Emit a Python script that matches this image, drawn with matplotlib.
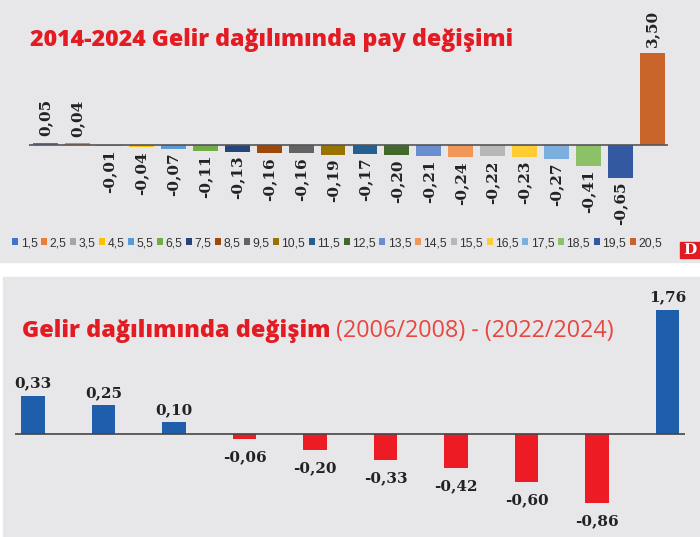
import numpy as np
import matplotlib
matplotlib.use("Agg")
import matplotlib.pyplot as plt
from matplotlib.patches import Rectangle

# top chart: share change per group, 2014-2024
groups = ["1,5", "2,5", "3,5", "4,5", "5,5", "6,5", "7,5", "8,5", "9,5", "10,5",
          "11,5", "12,5", "13,5", "14,5", "15,5", "16,5", "17,5", "18,5", "19,5", "20,5"]
pay_change = [0.05, 0.04, -0.01, -0.04, -0.07, -0.11, -0.13, -0.16, -0.16, -0.19,
              -0.17, -0.20, -0.21, -0.24, -0.22, -0.23, -0.27, -0.41, -0.65, 3.50]
group_colors = ["#4472c4", "#ed7d31", "#a5a5a5", "#ffc000", "#5b9bd5", "#70ad47",
                "#264478", "#9e480e", "#636363", "#997300", "#255e91", "#43682b",
                "#698ed0", "#f1975a", "#b7b7b7", "#ffcd33", "#7cafdd", "#8cc168",
                "#335aa1", "#c8642a"]

# bottom chart: change (2006/2008) - (2022/2024)
change_values = [0.33, 0.25, 0.10, -0.06, -0.20, -0.33, -0.42, -0.60, -0.86, 1.76]

W, H = 700, 537
BG = "#e7e7e9"
RED = "#e31b23"
LABEL_FONT = "DejaVu Serif"


def fmt(v):
    return f"{v:.2f}".replace(".", ",")


def piecewise_scale(xp, fp):
    # piecewise linear axis scale, like the hand-tuned bar heights of the original
    def fwd(y):
        return np.interp(y, xp, fp)

    def inv(p):
        return np.interp(p, fp, xp)

    return fwd, inv


def px_axes(fig, x0, y0, x1, y1):
    return fig.add_axes([x0 / W, 1 - y1 / H, (x1 - x0) / W, (y1 - y0) / H])


fig = plt.figure(figsize=(W / 100, H / 100), dpi=100)
fig.patch.set_facecolor("white")
fig.patches.append(Rectangle((0, 1 - 262 / H), 1, 262 / H, transform=fig.transFigure,
                             color=BG, zorder=-10))
fig.patches.append(Rectangle((3 / W, 0), 697 / W, 260 / H, transform=fig.transFigure,
                             color=BG, zorder=-10))

### top chart
ax1 = px_axes(fig, 29, 40, 668, 230)
fwd1, inv1 = piecewise_scale([-10, 0, 0.3, 10], [-500, 0, 15, 15 + 9.7 * 24.06])
ax1.set_yscale("function", functions=(fwd1, inv1))
for i, (v, c, g) in enumerate(zip(pay_change, group_colors, groups)):
    ax1.bar(i, v, width=0.78, color=c, label=g, zorder=2)
    if v > 0:
        ax1.annotate(fmt(v), (i, v), xytext=(0, 4.5), textcoords="offset points",
                     rotation=90, ha="center", va="bottom", fontsize=11,
                     fontweight="bold", family=LABEL_FONT, color="#222222")
    else:
        ax1.annotate(fmt(v), (i, v), xytext=(0, -3), textcoords="offset points",
                     rotation=90, ha="center", va="top", fontsize=11,
                     fontweight="bold", family=LABEL_FONT, color="#222222")
ax1.axhline(0, color="#555555", lw=1.2, zorder=3)
ax1.set_xlim(-0.516, 19.485)
ax1.set_ylim(inv1(-85), inv1(105))
ax1.axis("off")

handles, labels = ax1.get_legend_handles_labels()
fig.legend(handles, labels, loc="center", bbox_to_anchor=(337 / W, 1 - 243 / H), ncol=20,
           frameon=False, handlelength=0.5, handleheight=0.5, handletextpad=0.2,
           columnspacing=0.3, borderaxespad=0, borderpad=0, labelcolor="#333333",
           prop={"family": "Liberation Sans", "size": 8.7})

fig.text(30 / W, 1 - 46 / H, "2014-2024 Gelir dağılımında pay değişimi", color=RED,
         fontsize=16.7, fontweight=800, family="Open Sans", va="baseline")

# D logo
fig.patches.append(Rectangle((680 / W, 1 - 258 / H), 20 / W, 16 / H,
                             transform=fig.transFigure, color="#e11b22", zorder=5))
fig.text(690 / W, 1 - 250 / H, "D", color="white", fontsize=11, fontweight="bold",
         family="DejaVu Serif", ha="center", va="center", zorder=6)

### bottom chart
ax2 = px_axes(fig, 15, 300, 685, 530)
fwd2, inv2 = piecewise_scale([-10, 0, 0.35, 10], [-800, 0, 40.25, 40.25 + 9.65 * 59.6])
ax2.set_yscale("function", functions=(fwd2, inv2))
x2 = np.arange(len(change_values))
colors2 = ["#1e5eab" if v > 0 else "#ed1c24" for v in change_values]
ax2.bar(x2, change_values, width=0.33, color=colors2, zorder=2)
for i, v in enumerate(change_values):
    if v > 0:
        ax2.annotate(fmt(v), (i, v), xytext=(0, 4), textcoords="offset points",
                     ha="center", va="bottom", fontsize=11, fontweight="bold",
                     family=LABEL_FONT, color="#222222")
    else:
        ax2.annotate(fmt(v), (i, v), xytext=(0, -8), textcoords="offset points",
                     ha="center", va="top", fontsize=11, fontweight="bold",
                     family=LABEL_FONT, color="#222222")
ax2.axhline(0, color="#444444", lw=1.2, zorder=3)
ax2.set_xlim(-0.255, 9.248)
ax2.set_ylim(inv2(-96), inv2(134))
ax2.axis("off")

t1 = fig.text(22 / W, 1 - 337 / H, "Gelir dağılımında değişim", color=RED,
              fontsize=16.8, fontweight=800, family="Open Sans", va="baseline")
ax2.annotate(" (2006/2008) - (2022/2024)", xy=(1, 0), xycoords=t1, xytext=(0, 0),
             textcoords="offset points", ha="left", va="bottom", color="#e8473f",
             fontsize=16.8, family="Open Sans", annotation_clip=False)

fig.savefig("out.png", dpi=100)
